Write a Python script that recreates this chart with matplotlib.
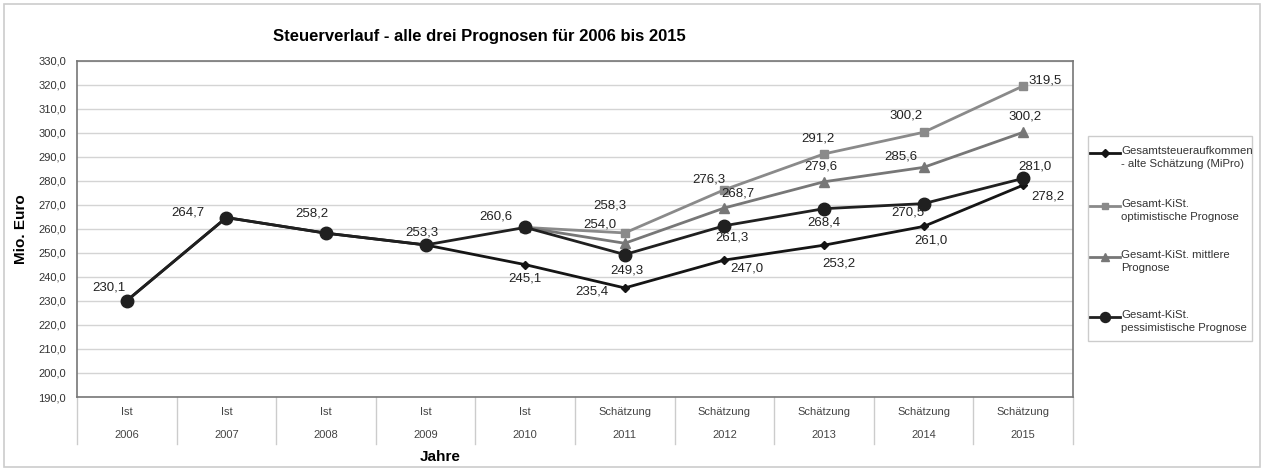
import matplotlib
matplotlib.use('Agg')
import matplotlib.pyplot as plt
import matplotlib.ticker as ticker
from matplotlib.lines import Line2D
from matplotlib.patches import Rectangle
import numpy as np

plt.rcParams['font.family'] = ['Liberation Sans', 'DejaVu Sans']

# data
years = ['2006', '2007', '2008', '2009', '2010', '2011', '2012', '2013', '2014', '2015']
phases = ['Ist'] * 5 + ['Schätzung'] * 5
mipro = [230.1, 264.7, 258.2, 253.3, 245.1, 235.4, 247.0, 253.2, 261.0, 278.2]
optimistic = [None, None, None, None, 260.6, 258.3, 276.3, 291.2, 300.2, 319.5]
mittlere = [None, None, None, None, 260.6, 254.0, 268.7, 279.6, 285.6, 300.2]
pessimistic = [230.1, 264.7, 258.2, 253.3, 260.6, 249.3, 261.3, 268.4, 270.5, 281.0]

names = ['Gesamtsteueraufkommen\n- alte Schätzung (MiPro)',
         'Gesamt-KiSt.\noptimistische Prognose',
         'Gesamt-KiSt. mittlere\nPrognose',
         'Gesamt-KiSt.\npessimistische Prognose']

# style per series: color, marker, markersize
styles = [('#151515', 'D', 4.5),
          ('#8a8a8a', 's', 6),
          ('#777777', '^', 6.5),
          ('#202020', 'o', 9)]

# label offsets in pixels (dx, dy), None = no label
offsets = [
    [(-18, 13), (-39, 5), (-14, 20), (-4, 12), (0, -14), (-33, -4), (22, -8), (15, -18), (7, -14), (25, -11)],
    [None, None, None, None, None, (-15, 27), (-16, 10), (-6, 15), (-18, 17), (22, 5)],
    [None, None, None, None, None, (-25, 19), (13, 14), (-3, 15), (-23, 11), (2, 16)],
    [None, None, None, None, (-29, 11), (2, -16), (8, -12), (0, -14), (-16, -9), (12, 12)],
]

W, H = 1262, 472
fig = plt.figure(figsize=(W / 100, H / 100), dpi=100)
ax = fig.add_axes([77 / W, (H - 397) / H, (1073 - 77) / W, (397 - 60.7) / H])

x = np.arange(len(years))
series = [mipro, optimistic, mittlere, pessimistic]
for s, (c, m, ms), offs in zip(series, styles, offsets):
    y = np.array([np.nan if v is None else v for v in s], dtype=float)
    ax.plot(x, y, color=c, lw=2, marker=m, ms=ms, mfc=c, mec=c, zorder=3)
    for xi, v, o in zip(x, s, offs):
        if v is None or o is None:
            continue
        ax.annotate(f'{v:.1f}'.replace('.', ','), (xi, v), xytext=o,
                    textcoords='offset pixels', ha='center', va='center',
                    fontsize=9.5, color='#222222', zorder=4)

ax.set_xlim(-0.5, len(years) - 0.5)
ax.set_ylim(190, 330)
ax.yaxis.set_major_locator(ticker.MultipleLocator(10))
ax.yaxis.set_major_formatter(ticker.FuncFormatter(lambda v, p: f'{v:.1f}'.replace('.', ',')))
ax.tick_params(axis='y', labelsize=8, colors='#333333', length=0, pad=8)
ax.set_xticks([])
ax.grid(axis='y', color='#d4d4d4', lw=1)
ax.set_axisbelow(True)
for sp in ax.spines.values():
    sp.set_color('#777777')
    sp.set_linewidth(1.2)

# two-level category axis below the plot
trans = ax.get_xaxis_transform()
for xi, ph, yr in zip(x, phases, years):
    ax.text(xi, -15 / 336, ph, transform=trans, ha='center', va='center',
            fontsize=8, color='#444444')
    ax.text(xi, -38 / 336, yr, transform=trans, ha='center', va='center',
            fontsize=8, color='#444444')
for b in np.arange(-0.5, len(years), 1.0):
    ax.plot([b, b], [0, -47 / 336], transform=trans, color='#cccccc', lw=1, clip_on=False)

ax.set_ylabel('Mio. Euro', fontsize=11, fontweight='bold', labelpad=7)
fig.text(440 / W, 1 - 457 / H, 'Jahre', ha='center', va='center', fontsize=11, fontweight='bold')
fig.text(479 / W, 1 - 37 / H, 'Steuerverlauf - alle drei Prognosen für 2006 bis 2015',
         ha='center', va='center', fontsize=12, fontweight='bold')

# legend drawn by hand so the handle sits at the first text line
fig.add_artist(Rectangle((1088 / W, 1 - 341 / H), (1252 - 1088) / W, (341 - 136) / H,
                         transform=fig.transFigure, fill=False, ec='#cccccc', lw=1))
rows = [153, 206, 257, 317]
for name, (c, m, ms), ry in zip(names, styles, rows):
    yf = 1 - ry / H
    fig.add_artist(Line2D([1090 / W, 1120 / W], [yf, yf], transform=fig.transFigure,
                          color=c, lw=2))
    fig.add_artist(Line2D([1105 / W], [yf], transform=fig.transFigure, marker=m,
                          ms=ms * 0.8, color=c, mfc=c, mec=c))
    fig.text(1121 / W, yf + 6.5 / H, name, ha='left', va='top', fontsize=8.2,
             color='#333333', linespacing=1.35)

# outer frame
fig.add_artist(Rectangle((4 / W, 5 / H), 1256 / W, 463 / H, transform=fig.transFigure,
                         fill=False, ec='#cccccc', lw=1.2))

fig.savefig('out.png', dpi=100)
